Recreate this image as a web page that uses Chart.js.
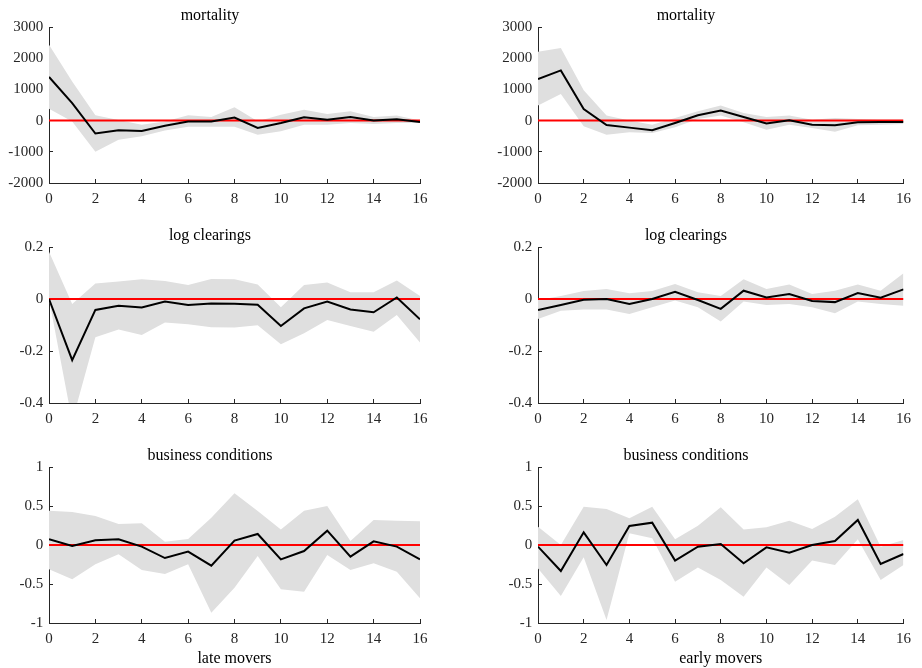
<!DOCTYPE html>
<html><head><meta charset="utf-8">
<script src="https://cdn.jsdelivr.net/npm/chart.js@4.4.0/dist/chart.umd.min.js"></script>
<style>
html,body{margin:0;padding:0;background:#fff;}
#wrap{position:relative;width:922px;height:668px;overflow:hidden;background:#fff;}
canvas{position:absolute;}
</style></head><body><div id="wrap">
<canvas id="c0" width="461" height="220" style="left:0px;top:0px"></canvas>
<canvas id="c1" width="461" height="220" style="left:461px;top:0px"></canvas>
<canvas id="c2" width="461" height="220" style="left:0px;top:220px"></canvas>
<canvas id="c3" width="461" height="220" style="left:461px;top:220px"></canvas>
<canvas id="c4" width="461" height="228" style="left:0px;top:440px"></canvas>
<canvas id="c5" width="461" height="228" style="left:461px;top:440px"></canvas>
</div>
<script>
// ---- data ----
const horizons = [0,1,2,3,4,5,6,7,8,9,10,11,12,13,14,15,16];
const xTicks = [0,2,4,6,8,10,12,14,16];
const zeroLine = [0,0,0,0,0,0,0,0,0,0,0,0,0,0,0,0,0];

const yTicksMortality = [-2000,-1000,0,1000,2000,3000];
const yTicksClearings = [-0.4,-0.2,0,0.2];
const yTicksBusiness = [-1,-0.5,0,0.5,1];

const mortalityLate      = [1400, 560, -415, -310, -330, -165, -30, -30, 95, -235, -75, 105, 30, 115, 0, 45, -45];
const mortalityLateUpper = [2430, 1250, 170, 20, -130, -30, 170, 115, 425, -20, 190, 350, 215, 300, 115, 160, 0];
const mortalityLateLower = [380, -30, -1000, -610, -500, -320, -200, -200, -200, -450, -340, -130, -130, -75, -110, -75, -75];

const mortalityEarly      = [1330, 1610, 370, -140, -225, -310, -75, 170, 320, 115, -95, 10, -130, -150, -55, -45, -45];
const mortalityEarlyUpper = [2210, 2330, 970, 160, 0, -130, 85, 300, 480, 245, 115, 160, 30, 85, 55, 30, 30];
const mortalityEarlyLower = [480, 850, -180, -450, -375, -395, -215, 55, 160, -55, -290, -130, -235, -360, -150, -130, -105];

const clearingsLate      = [0, -0.235, -0.042, -0.026, -0.033, -0.010, -0.023, -0.017, -0.018, -0.022, -0.104, -0.036, -0.010, -0.040, -0.051, 0.006, -0.078];
const clearingsLateUpper = [0.182, -0.019, 0.060, 0.067, 0.076, 0.069, 0.054, 0.077, 0.076, 0.056, -0.032, 0.054, 0.063, 0.026, 0.026, 0.071, 0.012];
const clearingsLateLower = [0, -0.47, -0.147, -0.117, -0.138, -0.090, -0.097, -0.109, -0.110, -0.101, -0.174, -0.132, -0.081, -0.104, -0.126, -0.062, -0.167];

const clearingsEarly      = [-0.042, -0.023, -0.003, 0.000, -0.019, 0.000, 0.028, -0.004, -0.038, 0.032, 0.006, 0.019, -0.008, -0.012, 0.023, 0.005, 0.037];
const clearingsEarlyUpper = [-0.004, 0.012, 0.031, 0.038, 0.022, 0.031, 0.058, 0.026, 0.012, 0.076, 0.038, 0.056, 0.019, 0.032, 0.056, 0.032, 0.099];
const clearingsEarlyLower = [-0.077, -0.045, -0.040, -0.040, -0.058, -0.032, -0.006, -0.032, -0.087, -0.010, -0.023, -0.019, -0.032, -0.055, -0.010, -0.019, -0.026];

const businessLate      = [0.073, -0.013, 0.060, 0.073, -0.021, -0.167, -0.085, -0.265, 0.056, 0.141, -0.184, -0.077, 0.184, -0.150, 0.047, -0.021, -0.184];
const businessLateUpper = [0.44, 0.423, 0.372, 0.269, 0.278, 0.043, 0.077, 0.350, 0.662, 0.436, 0.200, 0.44, 0.50, 0.051, 0.321, 0.312, 0.303];
const businessLateLower = [-0.312, -0.44, -0.248, -0.12, -0.32, -0.372, -0.248, -0.868, -0.547, -0.141, -0.568, -0.598, -0.128, -0.32, -0.235, -0.342, -0.684];

const businessEarly      = [-0.021, -0.333, 0.162, -0.256, 0.244, 0.286, -0.2, -0.021, 0.013, -0.235, -0.030, -0.098, 0.0, 0.051, 0.321, -0.244, -0.115];
const businessEarlyUpper = [0.235, 0.0, 0.491, 0.462, 0.342, 0.491, 0.073, 0.248, 0.483, 0.2, 0.226, 0.312, 0.205, 0.363, 0.585, -0.021, 0.064];
const businessEarlyLower = [-0.3, -0.654, -0.158, -0.962, 0.15, 0.085, -0.47, -0.29, -0.449, -0.662, -0.29, -0.513, -0.2, -0.256, 0.073, -0.449, -0.256];

const panelTitles = ['mortality','mortality','log clearings','log clearings','business conditions','business conditions'];
const xAxisTitles = ['late movers','early movers'];

// ---- styling ----
const FONT = "'Liberation Serif', 'Times New Roman', serif";
const AXIS = '#262626';
const BAND = '#dfdfdf';

function fmt(v){ return String(Number(Number(v).toFixed(4))); }

function makePanel(id, title, irf, upper, lower, yTicks, col, bottomRow, xTitle){
  const yWidth = col === 0 ? 49 : 77;
  const padRight = col === 0 ? 41 : 11;
  const xHeight = bottomRow ? 45 : 37;
  new Chart(document.getElementById(id), {
    type: 'line',
    data: {
      labels: horizons,
      datasets: [
        {data: irf, borderColor:'#000', borderWidth:2, pointRadius:0, fill:false, order:0, tension:0},
        {data: zeroLine, borderColor:'#ff0000', borderWidth:2, pointRadius:0, fill:false, order:1},
        {data: upper, borderColor:'rgba(0,0,0,0)', borderWidth:0, backgroundColor:BAND, pointRadius:0, fill:'+1', order:2},
        {data: lower, borderColor:'rgba(0,0,0,0)', borderWidth:0, pointRadius:0, fill:false, order:3}
      ]
    },
    options: {
      responsive:false, animation:false, events:[],
      layout:{padding:{left:0,right:padRight,top:0,bottom:0}},
      plugins:{
        legend:{display:false}, tooltip:{enabled:false},
        title:{display:true, text:title, color:'#000', font:{family:FONT,size:16,weight:'normal'}, padding:{top:6.4,bottom:1.4}}
      },
      scales:{
        x:{
          type:'linear', min:0, max:16,
          afterBuildTicks(s){ s.ticks = xTicks.map(v=>({value:v})); },
          afterFit(s){ s.height = xHeight; },
          grid:{drawOnChartArea:false, drawTicks:true, tickLength:-4, color:AXIS, lineWidth:1},
          border:{display:true, color:AXIS, width:1},
          ticks:{font:{family:FONT,size:15}, color:AXIS, padding:11, maxRotation:0, autoSkip:false, callback:v=>fmt(v)},
          title:{display:!!xTitle, text:xTitle||'', color:'#000', font:{family:FONT,size:16,weight:'normal'}, padding:0}
        },
        y:{
          type:'linear', min:yTicks[0], max:yTicks[yTicks.length-1],
          afterBuildTicks(s){ s.ticks = yTicks.map(v=>({value:v})); },
          afterFit(s){ s.width = yWidth; },
          grid:{drawOnChartArea:false, drawTicks:true, tickLength:-4, color:AXIS, lineWidth:1},
          border:{display:true, color:AXIS, width:1},
          ticks:{font:{family:FONT,size:15}, color:AXIS, padding:9.7, autoSkip:false, callback:v=>fmt(v)}
        }
      }
    }
  });
}

makePanel('c0', panelTitles[0], mortalityLate, mortalityLateUpper, mortalityLateLower, yTicksMortality, 0, false, null);
makePanel('c1', panelTitles[1], mortalityEarly, mortalityEarlyUpper, mortalityEarlyLower, yTicksMortality, 1, false, null);
makePanel('c2', panelTitles[2], clearingsLate, clearingsLateUpper, clearingsLateLower, yTicksClearings, 0, false, null);
makePanel('c3', panelTitles[3], clearingsEarly, clearingsEarlyUpper, clearingsEarlyLower, yTicksClearings, 1, false, null);
makePanel('c4', panelTitles[4], businessLate, businessLateUpper, businessLateLower, yTicksBusiness, 0, true, xAxisTitles[0]);
makePanel('c5', panelTitles[5], businessEarly, businessEarlyUpper, businessEarlyLower, yTicksBusiness, 1, true, xAxisTitles[1]);
</script>
</body></html>
